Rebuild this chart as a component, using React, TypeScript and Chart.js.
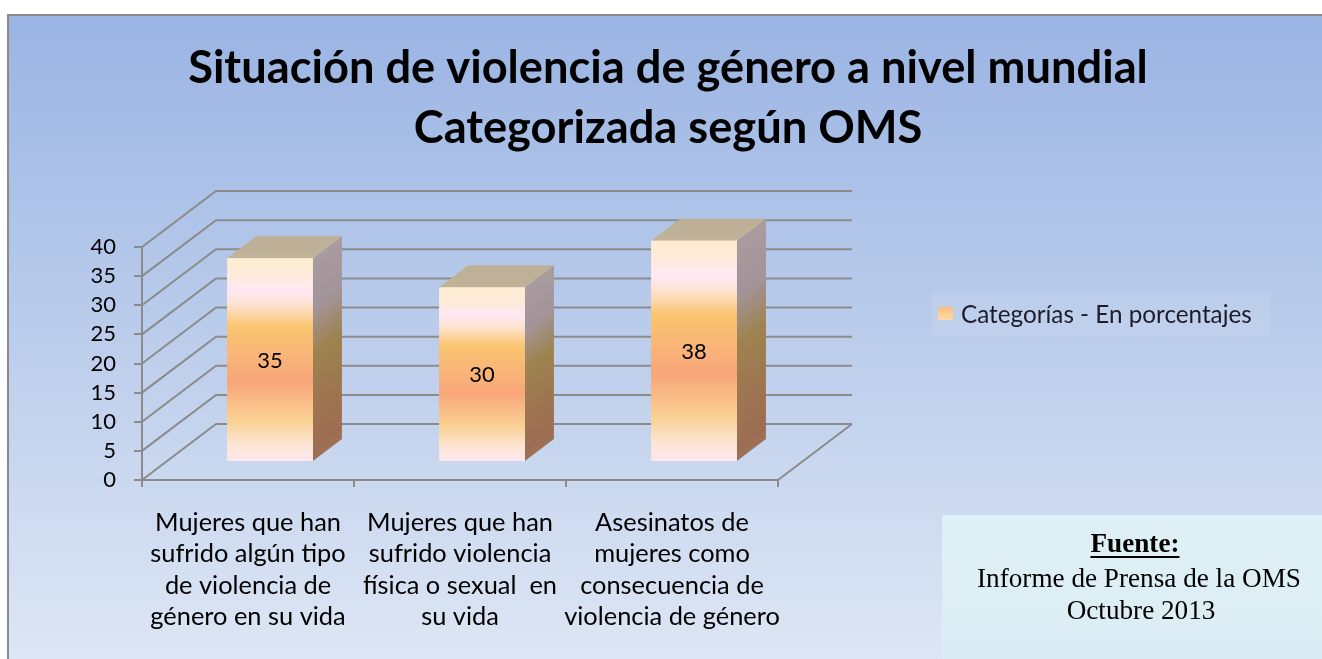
import { useEffect, useRef } from 'react';
import { Chart, registerables } from 'chart.js';

Chart.register(...registerables);

// ---------- data ----------
const TITLE_LINES = ['Situación de violencia de género a nivel mundial', 'Categorizada según OMS'];
const CATEGORIES = [
  ['Mujeres que han', 'sufrido algún tipo', 'de violencia de', 'género en su vida'],
  ['Mujeres que han', 'sufrido violencia', 'física o sexual  en', 'su vida'],
  ['Asesinatos de', 'mujeres como', 'consecuencia de', 'violencia de género'],
];
const SERIES_LABEL = 'Categorías - En porcentajes';
const VALUES = [35, 30, 38];
const Y_MIN = 0;
const Y_MAX = 40;
const Y_STEP = 5;
const SOURCE_HEADING = 'Fuente:';
const SOURCE_LINES = ['Informe de Prensa de la OMS', 'Octubre 2013'];

// ---------- style ----------
const W = 1322;
const H = 659;
const SANS = 'Lato, "Open Sans", sans-serif';
const SERIF = '"Liberation Serif", "Times New Roman", serif';
const GRID = '#8b8b8b';
const DX = 74; // depth of the floor/walls
const DY = -56;
const FDX = 22; // front face of bars offset
const FDY = -18;
const BDX = 29; // bar depth
const BDY = -22;

function fitSize(text: string, weight: string, family: string, target: number) {
  const c = document.createElement('canvas').getContext('2d')!;
  c.font = `${weight} 100px ${family}`;
  return (100 * target) / c.measureText(text).width;
}

export default function App() {
  const ref = useRef<HTMLCanvasElement | null>(null);

  useEffect(() => {
    document.body.style.margin = '0';
    const canvas = ref.current!;
    const tickSize = fitSize('40', 'normal', SANS, 25.5);
    const catSize = fitSize('Mujeres que han', 'normal', SANS, 186);
    const titleSize = fitSize(TITLE_LINES[0], 'bold', SANS, 960);
    const legendSize = fitSize(SERIES_LABEL, 'normal', SANS, 291);
    const srcSize = fitSize(SOURCE_LINES[0], 'normal', SERIF, 324);

    const decor = {
      id: 'decor',
      beforeDraw(chart: any) {
        const ctx = chart.ctx as CanvasRenderingContext2D;
        ctx.save();
        ctx.fillStyle = '#ffffff';
        ctx.fillRect(0, 0, W, H);
        const g = ctx.createLinearGradient(0, 15, 0, H);
        g.addColorStop(0, '#9ab4e3');
        g.addColorStop(1, '#dde6f4');
        ctx.fillStyle = g;
        ctx.fillRect(8, 15, W - 8, H - 15);
        ctx.strokeStyle = '#8a8a8a';
        ctx.lineWidth = 2;
        ctx.beginPath();
        ctx.moveTo(8, H);
        ctx.lineTo(8, 15);
        ctx.lineTo(W, 15);
        ctx.stroke();

        // title
        ctx.fillStyle = '#000';
        ctx.textAlign = 'center';
        ctx.textBaseline = 'alphabetic';
        ctx.font = `bold ${titleSize}px ${SANS}`;
        ctx.fillText(TITLE_LINES[0], 668, 83);
        ctx.fillText(TITLE_LINES[1], 668, 143);

        // legend
        ctx.fillStyle = 'rgba(255,255,255,0.08)';
        ctx.fillRect(932, 293, 338, 44);
        const mg = ctx.createLinearGradient(0, 307, 0, 320);
        mg.addColorStop(0, '#fdbf78');
        mg.addColorStop(1, '#ffd8a8');
        ctx.fillStyle = mg;
        ctx.fillRect(938, 307, 15, 13);
        ctx.fillStyle = '#1c1c2c';
        ctx.textAlign = 'left';
        ctx.font = `${legendSize}px ${SANS}`;
        ctx.fillText(chart.data.datasets[0].label, 961, 323);

        // source box
        const sg = ctx.createLinearGradient(0, 515, 0, H);
        sg.addColorStop(0, '#def0f5');
        sg.addColorStop(1, '#dcecf4');
        ctx.fillStyle = sg;
        ctx.fillRect(942, 515, W - 942, H - 515);
        ctx.fillStyle = '#000';
        ctx.textAlign = 'center';
        ctx.font = `bold ${srcSize}px ${SERIF}`;
        ctx.fillText(SOURCE_HEADING, 1135, 552);
        const hw = ctx.measureText(SOURCE_HEADING).width;
        ctx.fillRect(1135 - hw / 2, 556, hw, 2);
        ctx.font = `${srcSize}px ${SERIF}`;
        ctx.fillText(SOURCE_LINES[0], 1139, 587);
        ctx.fillText(SOURCE_LINES[1], 1141, 619);
        ctx.restore();
      },
      beforeDatasetsDraw(chart: any) {
        const ctx = chart.ctx as CanvasRenderingContext2D;
        const ys = chart.scales.y;
        const { left: L, right: R, bottom: B } = chart.chartArea;
        ctx.save();
        ctx.strokeStyle = GRID;
        ctx.lineWidth = 2;
        ctx.lineJoin = 'miter';
        ctx.beginPath();
        ys.ticks.forEach((t: any) => {
          const py = ys.getPixelForValue(t.value);
          ctx.moveTo(L, py);
          ctx.lineTo(L + DX, py + DY);
          ctx.lineTo(R + DX, py + DY);
        });
        ctx.moveTo(R, B);
        ctx.lineTo(R + DX, B + DY);
        ctx.stroke();
        ctx.restore();
      },
      afterDatasetsDraw(chart: any) {
        const ctx = chart.ctx as CanvasRenderingContext2D;
        const meta = chart.getDatasetMeta(0);
        const data = chart.data.datasets[0].data;
        ctx.save();
        meta.data.forEach((bar: any, i: number) => {
          const { x, y, base, width } = bar.getProps(['x', 'y', 'base', 'width'], true);
          const l = x - width / 2 + FDX;
          const r = x + width / 2 + FDX;
          const t = y + FDY;
          const b = base + FDY;
          const h = b - t;

          // side face
          const sg = ctx.createLinearGradient(r, t, r + (22 * h) / 29, b);
          sg.addColorStop(0, '#a99b9e');
          sg.addColorStop(0.16, '#a3949a');
          sg.addColorStop(0.3, '#9e834f');
          sg.addColorStop(0.48, '#9d7450');
          sg.addColorStop(0.6, '#9d6d53');
          sg.addColorStop(0.8, '#9c8a66');
          sg.addColorStop(1, '#a8999d');
          ctx.fillStyle = sg;
          ctx.beginPath();
          ctx.moveTo(r, t);
          ctx.lineTo(r + BDX, t + BDY);
          ctx.lineTo(r + BDX, b + BDY);
          ctx.lineTo(r, b);
          ctx.closePath();
          ctx.fill();

          // top face
          const tg = ctx.createLinearGradient(0, t + BDY, 0, t);
          tg.addColorStop(0, '#bdaf96');
          tg.addColorStop(1, '#c1b399');
          ctx.fillStyle = tg;
          ctx.beginPath();
          ctx.moveTo(l, t);
          ctx.lineTo(l + BDX, t + BDY);
          ctx.lineTo(r + BDX, t + BDY);
          ctx.lineTo(r, t);
          ctx.closePath();
          ctx.fill();

          // front face
          const fg = ctx.createLinearGradient(0, t, 0, b);
          fg.addColorStop(0, '#fdedcf');
          fg.addColorStop(0.08, '#fdebd9');
          fg.addColorStop(0.16, '#ffe8f3');
          fg.addColorStop(0.23, '#fde2cf');
          fg.addColorStop(0.34, '#f9c46e');
          fg.addColorStop(0.47, '#f9b678');
          fg.addColorStop(0.61, '#f8a67a');
          fg.addColorStop(0.8, '#fad193');
          fg.addColorStop(0.92, '#fde5d5');
          fg.addColorStop(1, '#fde6ee');
          ctx.fillStyle = fg;
          ctx.fillRect(l, t, r - l, h);

          // value label
          ctx.fillStyle = '#000';
          ctx.font = `${tickSize}px ${SANS}`;
          ctx.textAlign = 'center';
          ctx.textBaseline = 'middle';
          ctx.fillText(String(data[i]), (l + r) / 2, (t + b) / 2 + 1);
        });
        ctx.restore();
      },
    };

    const chart = new Chart(canvas, {
      type: 'bar',
      data: {
        labels: CATEGORIES,
        datasets: [
          {
            label: SERIES_LABEL,
            data: VALUES,
            backgroundColor: 'rgba(0,0,0,0)',
            borderWidth: 0,
            categoryPercentage: 0.45,
            barPercentage: 0.9,
          },
        ],
      },
      options: {
        responsive: false,
        animation: false,
        events: [],
        layout: { padding: { left: 142 - 60, right: W - 778, top: 247, bottom: H - 480 - 170 } },
        plugins: {
          legend: { display: false },
          title: { display: false },
          tooltip: { enabled: false },
        },
        scales: {
          x: {
            grid: {
              display: true,
              drawOnChartArea: false,
              drawTicks: true,
              tickLength: 7,
              color: GRID,
              lineWidth: 2,
              offset: true,
            },
            border: { display: true, color: GRID, width: 2 },
            ticks: {
              color: '#000',
              font: { family: SANS, size: catSize, lineHeight: 31.5 / catSize },
              padding: 20,
              maxRotation: 0,
              minRotation: 0,
              autoSkip: false,
            },
            afterFit: (s: any) => {
              s.height = 170;
            },
          },
          y: {
            min: Y_MIN,
            max: Y_MAX,
            grid: { drawOnChartArea: false, drawTicks: true, tickLength: 8, color: GRID, lineWidth: 2 },
            border: { display: true, color: GRID, width: 2 },
            ticks: {
              stepSize: Y_STEP,
              autoSkip: false,
              color: '#000',
              font: { family: SANS, size: tickSize, lineHeight: 1 },
              padding: 18,
            },
            afterFit: (s: any) => {
              s.width = 60;
            },
          },
        },
      } as any,
      plugins: [decor],
    });
    return () => chart.destroy();
  }, []);

  return (
    <div style={{ width: W, height: H }}>
      <canvas ref={ref} width={W} height={H} style={{ display: 'block', width: W, height: H }} />
    </div>
  );
}
